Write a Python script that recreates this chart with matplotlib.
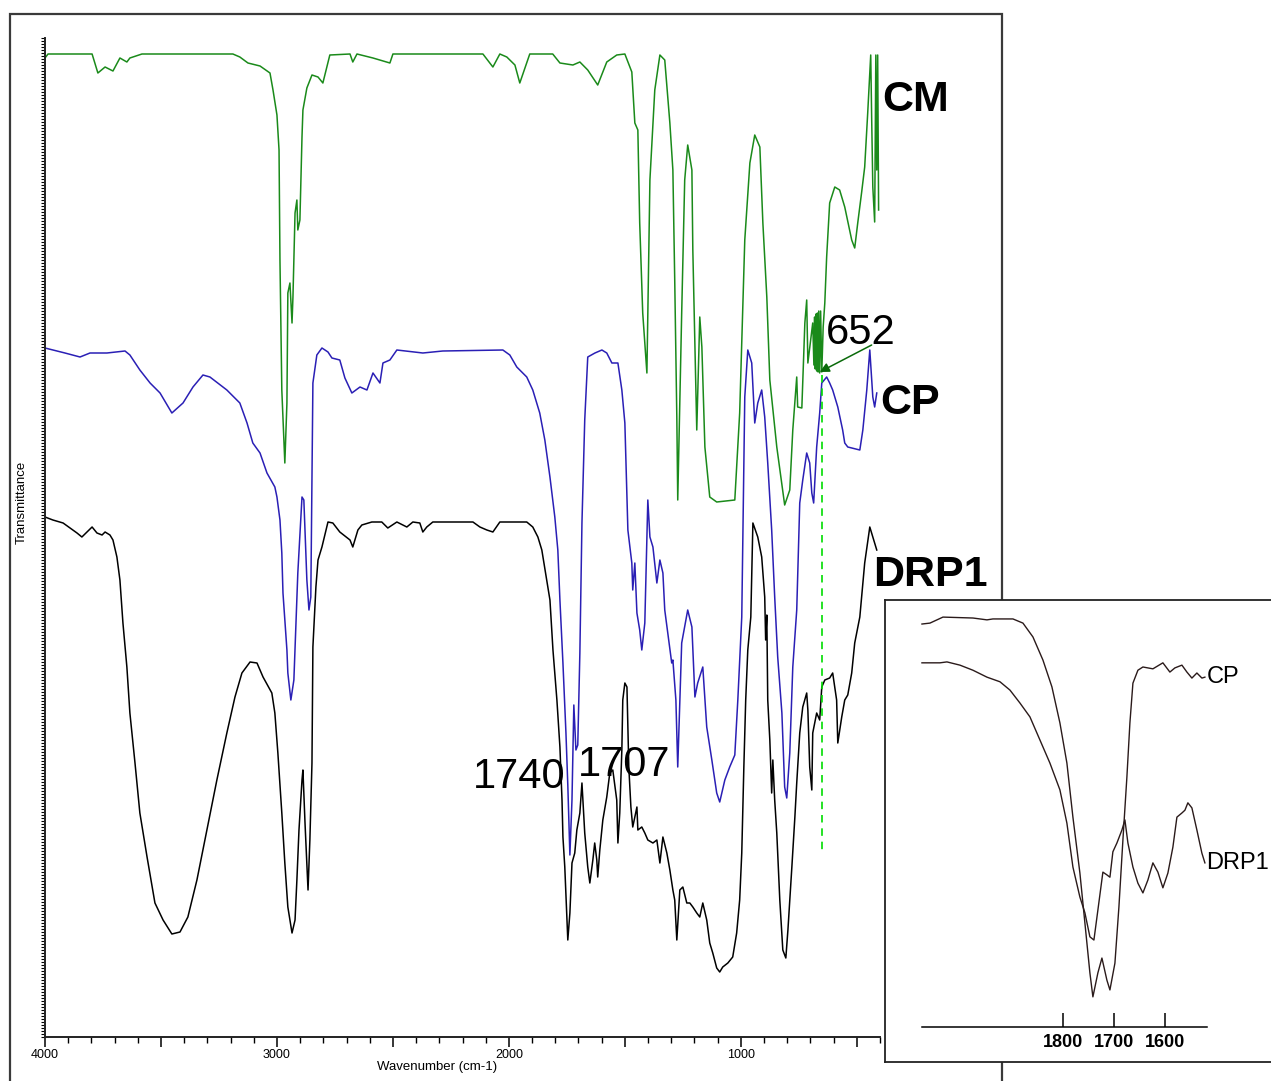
import numpy as np
import matplotlib
matplotlib.use("Agg")
import matplotlib.pyplot as plt
from matplotlib.ticker import MultipleLocator
from matplotlib.patches import Rectangle

plt.rcParams['font.family'] = ['Liberation Sans', 'DejaVu Sans']

# ---------------- main spectra (wavenumber cm-1, transmittance a.u.) ----------------
CM_WN = [4000, 3987, 3797, 3772, 3741, 3707, 3677, 3647, 3634, 3582, 3190, 3160, 3125, 3073,
         3030, 3017, 3000, 2991, 2987, 2979, 2966, 2957, 2953, 2944, 2935, 2931, 2922, 2914,
         2910, 2901, 2892, 2888, 2871, 2849, 2823, 2802, 2772, 2685, 2673, 2655, 2586, 2513,
         2500, 2112, 2069, 2039, 2009, 1974, 1953, 1910, 1811, 1780, 1724, 1694, 1660, 1617,
         1578, 1535, 1500, 1470, 1457, 1444, 1436, 1423, 1405, 1392, 1371, 1349, 1328, 1306,
         1293, 1285, 1276, 1272, 1255, 1242, 1229, 1211, 1207, 1190, 1177, 1168, 1155, 1134,
         1104, 1026, 1005, 983, 961, 940, 918, 905, 888, 875, 845, 811, 789, 776, 759, 755,
         737, 724, 716, 711, 690, 685, 682, 679, 676, 673, 670, 667, 664, 660, 656, 651, 645,
         638, 630, 617, 595, 574, 552, 522, 509, 496, 479, 466, 453, 440, 436, 431, 423, 418,
         414, 410, 406]
CM_T = [97.9, 98.3, 98.3, 96.4, 97.0, 96.6, 97.9, 97.5, 97.9, 98.3, 98.3, 98.0, 97.4, 97.1,
        96.4, 94.7, 92.2, 88.7, 77.7, 64.7, 57.4, 63.4, 74.4, 75.4, 71.4, 74.0, 82.4, 83.7,
        80.7, 81.7, 90.0, 92.7, 94.9, 96.2, 96.0, 95.4, 98.2, 98.3, 97.5, 98.3, 97.9, 97.4,
        98.3, 98.3, 97.0, 98.3, 98.0, 97.2, 95.4, 98.3, 98.3, 97.4, 97.2, 97.5, 96.7, 95.2,
        97.5, 98.2, 98.3, 96.5, 91.4, 90.7, 81.4, 72.4, 66.4, 85.7, 94.7, 98.2, 97.7, 91.4,
        86.7, 75.7, 62.0, 53.7, 72.4, 85.7, 89.2, 86.7, 78.7, 60.7, 72.0, 69.0, 59.0, 54.0,
        53.5, 53.7, 62.4, 79.7, 87.4, 90.2, 89.0, 81.4, 74.0, 65.7, 59.0, 53.2, 54.7, 60.7,
        66.0, 63.0, 62.9, 71.4, 73.7, 67.4, 71.4, 67.2, 72.0, 66.8, 72.3, 66.6, 72.4, 66.5,
        72.6, 66.4, 72.6, 66.5, 71.0, 73.4, 78.0, 83.4, 85.0, 84.7, 83.0, 79.7, 78.9, 81.4,
        84.5, 87.0, 92.4, 98.2, 92.0, 85.0, 81.5, 98.2, 86.7, 98.2, 82.7]

CP_WN = [4000, 3966, 3914, 3849, 3806, 3733, 3655, 3634, 3591, 3547, 3504, 3453, 3405, 3362,
         3319, 3289, 3216, 3160, 3129, 3104, 3073, 3043, 3009, 3000, 2987, 2979, 2974, 2957,
         2953, 2940, 2927, 2918, 2910, 2892, 2884, 2875, 2871, 2862, 2854, 2849, 2845, 2828,
         2806, 2780, 2763, 2729, 2707, 2677, 2642, 2612, 2586, 2556, 2543, 2513, 2483, 2371,
         2285, 2026, 1996, 1966, 1923, 1897, 1867, 1845, 1823, 1802, 1789, 1780, 1767, 1754,
         1746, 1737, 1728, 1720, 1711, 1703, 1694, 1685, 1673, 1660, 1629, 1599, 1578, 1556,
         1530, 1513, 1500, 1487, 1470, 1466, 1457, 1448, 1436, 1427, 1414, 1405, 1401, 1392,
         1379, 1362, 1349, 1336, 1328, 1315, 1298, 1293, 1280, 1272, 1263, 1255, 1229, 1211,
         1198, 1186, 1164, 1147, 1125, 1104, 1091, 1069, 1048, 1026, 1013, 996, 983, 970, 953,
         940, 927, 910, 897, 884, 867, 854, 841, 823, 811, 802, 789, 776, 759, 746, 733, 716,
         703, 694, 686, 673, 660, 651, 630, 617, 604, 582, 561, 552, 539, 487, 474, 457, 444,
         431, 423, 414]
CP_T = [68.9, 68.7, 68.4, 68.0, 68.4, 68.4, 68.6, 68.2, 66.7, 65.4, 64.4, 62.4, 63.4, 65.0,
        66.2, 66.0, 64.7, 63.4, 61.4, 59.4, 58.4, 56.4, 55.0, 54.0, 51.7, 48.4, 44.4, 38.7,
        36.4, 33.7, 35.7, 41.4, 46.4, 54.0, 53.7, 48.0, 45.7, 42.7, 44.0, 56.4, 65.4, 68.2,
        68.9, 68.5, 67.9, 67.7, 65.9, 64.4, 65.0, 64.7, 66.4, 65.4, 67.4, 67.7, 68.7, 68.4,
        68.6, 68.7, 68.2, 67.0, 66.0, 64.7, 62.4, 59.7, 56.0, 52.0, 48.7, 43.7, 37.4, 30.4,
        25.2, 18.2, 23.7, 33.2, 28.7, 29.2, 38.4, 51.4, 61.7, 68.0, 68.4, 68.7, 68.4, 67.4,
        67.4, 64.7, 61.4, 50.7, 47.4, 44.7, 47.4, 42.4, 40.7, 38.7, 41.4, 50.0, 53.7, 50.0,
        49.0, 45.4, 47.7, 46.4, 42.7, 40.4, 37.4, 37.7, 33.7, 27.0, 33.7, 39.4, 42.7, 41.0,
        34.0, 35.4, 37.0, 31.0, 27.7, 24.4, 23.5, 25.7, 27.0, 28.2, 33.7, 42.0, 64.0, 68.7,
        67.4, 61.4, 63.4, 64.7, 62.0, 57.4, 50.7, 44.0, 38.0, 32.4, 25.0, 23.9, 28.4, 37.0,
        42.7, 53.4, 55.7, 58.4, 57.4, 54.4, 53.4, 59.0, 62.4, 65.4, 66.0, 65.4, 64.7, 63.0,
        60.7, 59.4, 59.0, 58.7, 60.7, 64.7, 68.7, 64.0, 63.0, 64.4]

DRP1_WN = [4000, 3966, 3922, 3892, 3862, 3841, 3819, 3797, 3776, 3754, 3741, 3720, 3707, 3690,
           3677, 3664, 3647, 3634, 3612, 3591, 3560, 3526, 3491, 3453, 3418, 3384, 3345, 3302,
           3259, 3216, 3181, 3151, 3116, 3086, 3060, 3022, 3009, 2996, 2979, 2966, 2953, 2935,
           2922, 2914, 2905, 2892, 2888, 2879, 2871, 2866, 2858, 2849, 2845, 2832, 2823, 2806,
           2780, 2759, 2729, 2685, 2673, 2651, 2634, 2591, 2548, 2522, 2483, 2440, 2414, 2384,
           2371, 2354, 2328, 2155, 2125, 2095, 2069, 2039, 1923, 1897, 1875, 1858, 1823, 1810,
           1793, 1780, 1771, 1767, 1759, 1750, 1746, 1737, 1728, 1716, 1707, 1694, 1685, 1681,
           1673, 1660, 1651, 1638, 1630, 1621, 1617, 1608, 1595, 1578, 1565, 1552, 1535, 1530,
           1522, 1513, 1509, 1500, 1491, 1483, 1474, 1466, 1448, 1444, 1427, 1414, 1401, 1379,
           1362, 1349, 1336, 1319, 1306, 1293, 1285, 1276, 1263, 1250, 1233, 1220, 1207, 1190,
           1177, 1164, 1147, 1134, 1121, 1104, 1091, 1078, 1056, 1035, 1018, 1005, 996, 987, 979,
           970, 957, 948, 927, 910, 897, 893, 888, 884, 875, 867, 862, 854, 845, 832, 819, 806,
           797, 780, 767, 759, 746, 733, 716, 711, 703, 694, 690, 673, 660, 651, 638, 617, 604,
           587, 582, 565, 552, 539, 522, 509, 487, 466, 444, 431, 414]
DRP1_T = [52.0, 51.7, 51.4, 50.9, 50.4, 50.0, 50.5, 51.0, 50.4, 50.2, 50.5, 50.2, 49.7, 48.0,
          45.7, 41.4, 37.0, 32.4, 27.4, 22.4, 18.0, 13.4, 11.7, 10.3, 10.5, 12.0, 15.7, 20.7,
          25.7, 30.4, 34.0, 36.4, 37.5, 37.4, 36.0, 34.4, 32.4, 28.4, 22.4, 17.4, 13.0, 10.4,
          11.7, 15.7, 20.7, 25.7, 26.7, 21.4, 17.4, 14.7, 19.7, 27.4, 39.0, 45.0, 47.7, 49.0,
          51.5, 51.4, 50.5, 49.7, 49.0, 50.7, 51.2, 51.5, 51.5, 50.9, 51.5, 51.0, 51.5, 51.4,
          50.5, 51.0, 51.5, 51.5, 51.0, 50.7, 50.5, 51.5, 51.5, 51.0, 50.0, 48.7, 43.7, 38.7,
          33.7, 29.0, 23.7, 20.0, 17.0, 12.0, 9.7, 12.4, 17.4, 18.4, 20.7, 22.4, 25.4, 23.7,
          20.4, 17.0, 15.4, 17.7, 19.4, 17.7, 16.0, 18.7, 21.7, 24.0, 26.4, 26.7, 23.7, 19.4,
          22.4, 28.7, 33.7, 35.4, 35.0, 27.0, 23.0, 21.0, 23.0, 20.7, 21.0, 20.4, 19.7, 19.4,
          19.7, 17.4, 20.0, 18.4, 16.7, 14.7, 13.7, 9.7, 14.7, 15.0, 13.4, 13.4, 13.0, 12.4,
          12.0, 13.4, 11.7, 9.4, 8.4, 6.9, 6.5, 7.0, 7.4, 8.0, 10.4, 13.7, 18.4, 27.0, 33.7,
          38.7, 42.0, 51.4, 50.0, 48.0, 44.0, 39.7, 42.2, 33.7, 29.7, 24.4, 27.7, 23.7, 20.4,
          13.7, 8.7, 7.9, 10.7, 17.0, 22.0, 25.4, 30.4, 33.0, 34.4, 32.7, 27.0, 24.7, 30.4,
          32.4, 31.7, 35.0, 35.7, 35.9, 36.4, 33.7, 29.4, 32.0, 33.7, 34.2, 36.4, 39.4, 42.0,
          47.4, 51.0, 50.0, 48.7]

# ---------------- inset (carbonyl region) ----------------
IN_CP_WN = [2076.5, 2060.8, 2035.3, 1976.5, 1949.0, 1937.3, 1898.0, 1878.4, 1858.8, 1839.2,
            1821.6, 1805.9, 1792.2, 1780.4, 1766.7, 1756.9, 1747.1, 1741.2, 1731.4, 1723.5,
            1713.7, 1707.8, 1698.0, 1690.2, 1682.3, 1674.5, 1668.6, 1662.7, 1652.9, 1643.1,
            1623.5, 1603.9, 1590.2, 1580.4, 1566.6, 1556.8, 1547.0, 1537.2, 1527.4, 1521.5]
IN_CP_T = [94.8, 95.0, 96.3, 96.1, 95.7, 95.9, 95.9, 95.0, 92.0, 87.0, 81.2, 73.4, 64.7, 53.0,
           40.9, 30.1, 19.3, 14.1, 19.3, 22.5, 17.7, 15.6, 21.4, 33.5, 48.1, 61.7, 73.4, 82.0,
           84.8, 85.5, 85.1, 86.4, 84.4, 85.3, 85.9, 84.4, 83.1, 84.2, 83.1, 83.3]
IN_DRP1_WN = [2076.5, 2041.2, 2027.5, 2002.0, 1976.5, 1949.0, 1923.5, 1903.9, 1884.3, 1864.7,
              1845.1, 1825.5, 1805.9, 1792.2, 1780.4, 1766.7, 1756.9, 1747.1, 1739.2, 1731.4,
              1721.6, 1713.7, 1707.8, 1702.0, 1694.1, 1684.3, 1678.4, 1672.5, 1662.7, 1652.9,
              1643.1, 1633.3, 1623.5, 1613.7, 1603.9, 1594.1, 1584.3, 1576.4, 1566.6, 1560.7,
              1554.9, 1547.0, 1537.2, 1527.4, 1521.5]
IN_DRP1_T = [86.4, 86.4, 86.6, 85.9, 84.8, 83.3, 82.3, 80.5, 77.7, 74.7, 69.7, 64.7, 58.9, 51.7,
             42.2, 35.7, 32.3, 27.1, 26.4, 32.9, 41.1, 40.5, 40.0, 45.5, 47.4, 50.2, 52.4, 47.4,
             42.2, 38.7, 36.6, 39.4, 43.1, 41.1, 37.7, 40.9, 46.5, 53.0, 53.9, 54.5, 56.1, 55.0,
             50.2, 45.2, 43.1]

MAJOR_TICKS = [4000, 3500, 3000, 2500, 2000, 1500, 1000, 500]
MAJOR_LABELS = ['4000', '', '3000', '', '2000', '', '1000', '']
INSET_TICKS = [1800, 1700, 1600]

W, H = 1271, 1081
fig = plt.figure(figsize=(W / 100, H / 100), dpi=100)

# outer frame
fig.add_artist(Rectangle((10 / W, -0.05), 992 / W, (H - 14) / H + 0.05,
                         transform=fig.transFigure, fill=False, lw=1.6,
                         ec='#3a3a3a', zorder=1))

ax = fig.add_axes([45 / W, 44 / H, 835 / W, 999 / H])
ax.plot(CM_WN, CM_T, color='#1a8a1a', lw=1.1)
ax.plot(CP_WN, CP_T, color='#2a1fb5', lw=1.1)
ax.plot(DRP1_WN, DRP1_T, color='black', lw=1.1)
ax.set_xlim(4000, 400)
ax.set_ylim(0, 99.9)

for s in ['top', 'right']:
    ax.spines[s].set_visible(False)
for s in ['left', 'bottom']:
    ax.spines[s].set_linewidth(1.4)
    ax.spines[s].set_color('#222222')

ax.set_xticks(MAJOR_TICKS)
ax.set_xticklabels(MAJOR_LABELS, fontsize=9)
ax.xaxis.set_minor_locator(MultipleLocator(100))
ax.tick_params(axis='x', which='major', length=7, width=1.1, direction='out', pad=2)
ax.tick_params(axis='x', which='minor', length=4, width=1.0, direction='out')
ax.set_yticks([])
ax.yaxis.set_minor_locator(MultipleLocator(0.3))
ax.tick_params(axis='y', which='minor', length=3, width=0.8, direction='out')

ax.set_xlabel('Wavenumber (cm-1)', fontsize=9.5)
ax.xaxis.set_label_coords(0.47, -0.024)
ax.xaxis.label.set_va('top')
ax.set_ylabel('Transmittance', fontsize=9.5)
ax.yaxis.label.set_va('center')
ax.yaxis.set_label_coords(-0.0275, 0.535)

# dashed marker at 652
ax.plot([651, 651], [66.2, 18.7], color='#00dd00', lw=1.2, ls=(0, (4.5, 3.5)))

# labels
bold = dict(fontsize=31, fontweight='bold', ha='left', va='center', clip_on=False)
ax.text(392, 93.7, 'CM', **bold)
ax.text(401, 63.4, 'CP', **bold)
ax.text(431, 46.2, 'DRP1', **bold)
ax.text(634, 70.4, '652', fontsize=30, ha='left', va='center')
ax.annotate('', xy=(660, 66.5), xytext=(436, 69.2),
            arrowprops=dict(arrowstyle='-|>', color='#0a6a0a', lw=1.1,
                            mutation_scale=14, shrinkA=0, shrinkB=0))
ax.text(2155, 26.0, '1740', fontsize=30, ha='left', va='center')
ax.text(1703, 27.2, '1707', fontsize=30, ha='left', va='center')

# ---------------- inset ----------------
box = fig.add_axes([885 / W, 19 / H, 390 / W, 462 / H])
box.set_zorder(3)
box.set_facecolor('white')
box.set_xticks([])
box.set_yticks([])
for s in box.spines.values():
    s.set_linewidth(1.3)
    s.set_color('#222222')

inax = fig.add_axes([885 / W, 19 / H, 390 / W, 462 / H])
inax.set_zorder(4)
inax.patch.set_alpha(0)
inax.plot(IN_CP_WN, IN_CP_T, color='#2a1a1a', lw=1.0)
inax.plot(IN_DRP1_WN, IN_DRP1_T, color='#2a1a1a', lw=1.0)
inax.set_xlim(2149, 1384)
inax.set_ylim(0, 100)
for s in ['top', 'right', 'left']:
    inax.spines[s].set_visible(False)
inax.spines['bottom'].set_position(('data', 7.58))
inax.spines['bottom'].set_bounds(2076.5, 1518)
inax.spines['bottom'].set_linewidth(1.1)
inax.set_yticks([])
inax.set_xticks(INSET_TICKS)
inax.set_xticklabels([str(t) for t in INSET_TICKS], fontsize=13, fontweight='bold')
inax.tick_params(axis='x', direction='in', length=10, width=1.1, pad=5)
inax.text(1518, 83.3, 'CP', fontsize=17, ha='left', va='center')
inax.text(1520, 43.1, 'DRP1', fontsize=17, ha='left', va='center')

fig.savefig('out.png', dpi=100)
